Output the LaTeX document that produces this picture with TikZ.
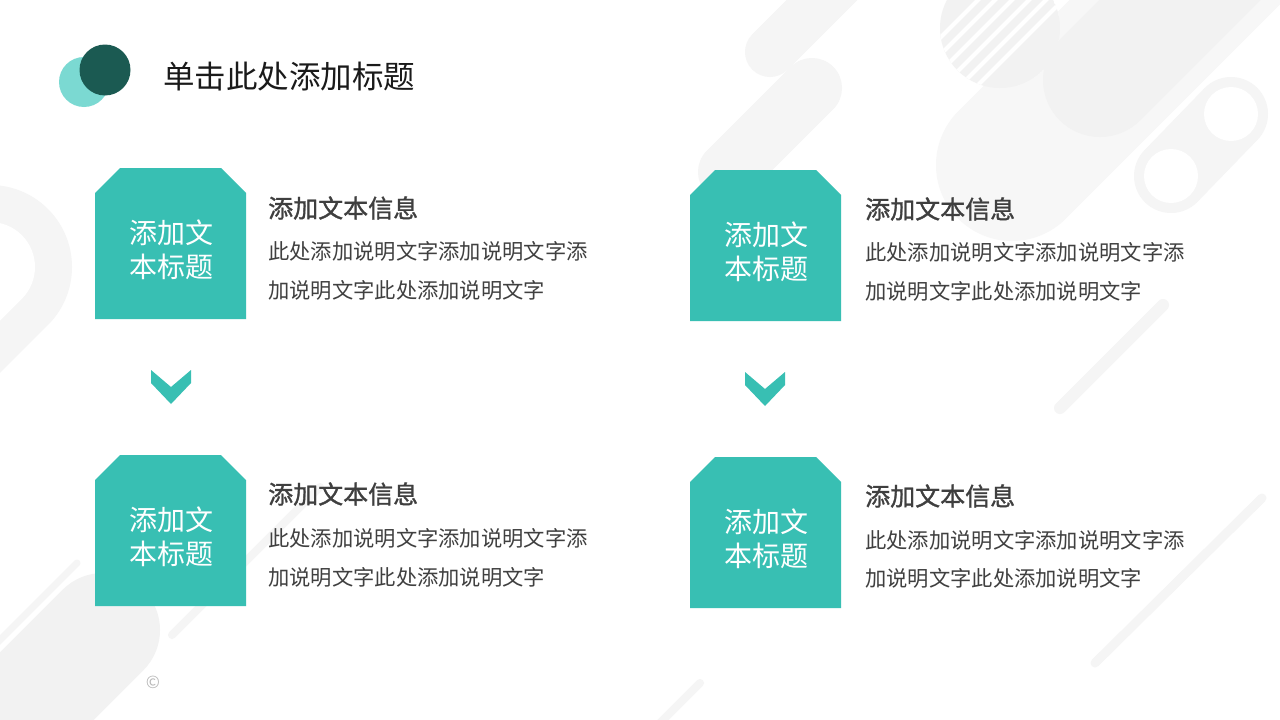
\documentclass[tikz,border=0pt]{standalone}
\usepackage{fontspec}
\setmainfont{Noto Sans CJK SC}
\newfontfamily\cjkh[FakeBold=1.2]{Noto Sans CJK SC}
\definecolor{boxteal}{HTML}{38BFB3}
\definecolor{logolight}{HTML}{7BD9D2}
\definecolor{logodark}{HTML}{1B5A52}
\definecolor{titlecol}{HTML}{1A1A1A}
\definecolor{headcol}{HTML}{3F3F3F}
\definecolor{bodycol}{HTML}{404040}
\definecolor{bgA}{HTML}{F5F5F5}
\definecolor{bgC}{HTML}{F2F2F2}
\definecolor{bgD}{HTML}{F7F7F7}
\definecolor{bgE}{HTML}{F2F2F2}
\definecolor{copycol}{HTML}{B8B8B8}
\begin{document}
\begin{tikzpicture}[x=1pt,y=-1pt,
  hexbox/.pic={\fill[boxteal] (0,25) -- (25,0) -- (126,0) -- (151,25) -- (151,151) -- (0,151) -- cycle;},
  chev/.pic={\fill[boxteal] (0,0) -- (20,17) -- (40,0) -- (40,13) -- (20,34) -- (0,13) -- cycle;},
  lbl/.style={text=white, font=\fontsize{28}{33.5}\selectfont, align=center, inner sep=0pt},
  head/.style={anchor=west, text=headcol, font=\cjkh\fontsize{25}{30}\selectfont, inner sep=0pt},
  body/.style={anchor=west, text=bodycol, font=\fontsize{21.3}{26}\selectfont, inner sep=0pt},
  capsule/.style={line cap=round}
]
\useasboundingbox (0,0) rectangle (1280,720);
\fill[white] (0,0) rectangle (1280,720);

% ---- background decorations ----
\draw[bgD, capsule, line width=152pt] (1012,165) -- (1360,-183);
\begin{scope}
  \clip (1000,28) circle[radius=60];
  \fill[bgC] (1000,28) circle[radius=60];
  \foreach \c in {978,995,...,1063} \draw[white, line width=4pt] (\c-200,200) -- (\c+200,-200);
\end{scope}
\draw[bgC, capsule, line width=114pt] (1100,80) -- (1350,-170);
\draw[bgA, capsule, line width=50pt] (770,52) -- (900,-78);
\draw[bgA, capsule, line width=60pt] (812,88) -- (728,172);
\draw[bgA, capsule, line width=74pt] (1231,114) -- (1171,176);
\fill[white] (1231,114) circle[radius=27];
\fill[white] (1171,176) circle[radius=27];
\draw[bgA, capsule, line width=12pt] (1163,305) -- (1060,408);
\draw[bgA, capsule, line width=9pt] (1262,498) -- (1095,663);
\draw[bgA, capsule, line width=164pt] (-10,267) -- (-300,557);
\draw[white, capsule, line width=90pt] (-10,267) -- (-300,557);
\draw[bgE, capsule, line width=114pt] (103,630) -- (-200,933);
\draw[bgA, capsule, line width=7pt] (77,563) -- (-20,660);
\draw[bgA, capsule, line width=8pt] (172,635) -- (320,487);
\draw[bgA, capsule, line width=8pt] (655,728) -- (700,683);

% ---- logo and title ----
\fill[logolight] (84,82) circle[radius=25];
\fill[logodark] (105,70) circle[radius=25.5];
\node[anchor=west, inner sep=0pt, text=titlecol, font=\fontsize{31.5}{36}\selectfont] (title) at (163,77) {单击此处添加标题};

% ---- boxes ----
\pic at (95,168) {hexbox};
\pic at (690,170) {hexbox};
\pic at (95,455) {hexbox};
\pic at (690,457) {hexbox};
\pic at (151,370) {chev};
\pic at (745,372) {chev};

\node[lbl] (l1) at (171,250) {添加文\\本标题};
\node[lbl] (l2) at (766,252) {添加文\\本标题};
\node[lbl] (l3) at (171,537) {添加文\\本标题};
\node[lbl] (l4) at (766,539) {添加文\\本标题};

\node[head] (h1) at (268,208) {添加文本信息};
\node[body] (b1a) at (268,251) {此处添加说明文字添加说明文字添};
\node[body] (b1b) at (268,290) {加说明文字此处添加说明文字};

\node[head] (h2) at (865,209) {添加文本信息};
\node[body] (b2a) at (865,252) {此处添加说明文字添加说明文字添};
\node[body] (b2b) at (865,291) {加说明文字此处添加说明文字};

\node[head] (h3) at (268,494) {添加文本信息};
\node[body] (b3a) at (268,538) {此处添加说明文字添加说明文字添};
\node[body] (b3b) at (268,577) {加说明文字此处添加说明文字};

\node[head] (h4) at (865,496) {添加文本信息};
\node[body] (b4a) at (865,540) {此处添加说明文字添加说明文字添};
\node[body] (b4b) at (865,578) {加说明文字此处添加说明文字};

\node[text=copycol, inner sep=0pt, font=\fontsize{17}{19}\selectfont] (copy) at (153,682) {©};
\end{tikzpicture}
\end{document}
